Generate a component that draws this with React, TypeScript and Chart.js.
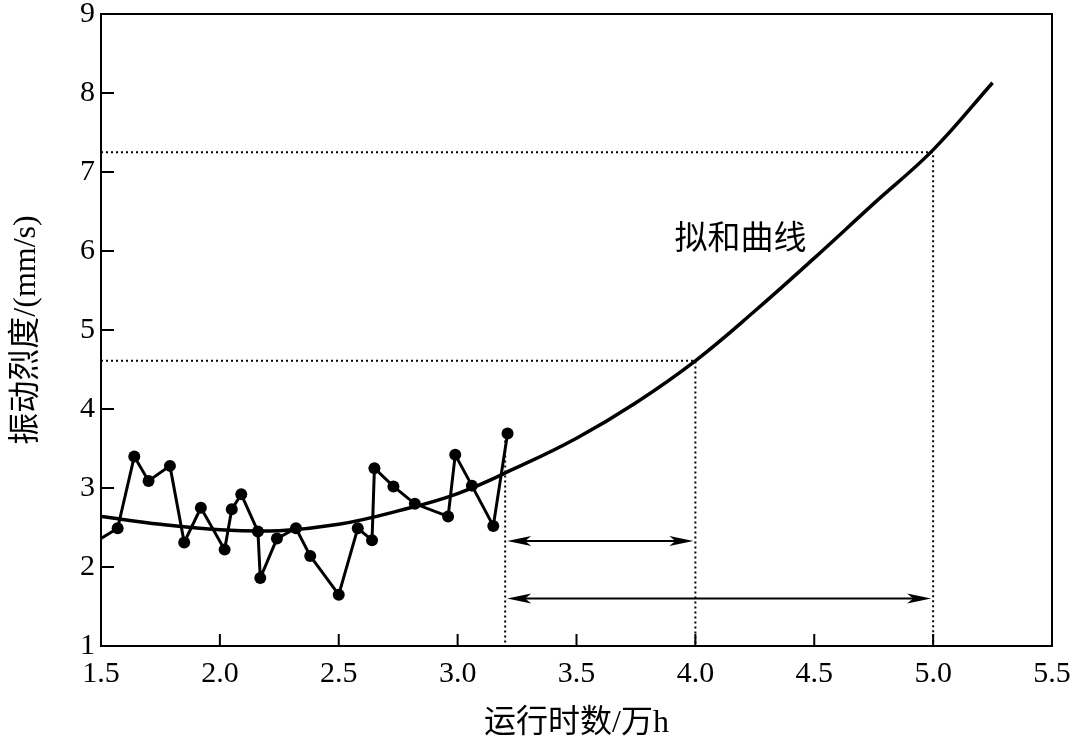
import React, { useEffect, useRef } from "react";
import { Chart, registerables } from "chart.js";

Chart.register(...registerables);

// Measured vibration intensity (first entry lies on the left edge, no marker)
const measuredX = [1.5, 1.57, 1.64, 1.7, 1.79, 1.85, 1.92, 2.02, 2.05, 2.09, 2.16, 2.17, 2.24, 2.32, 2.38, 2.5, 2.58, 2.64, 2.65, 2.73, 2.82, 2.96, 2.99, 3.06, 3.15, 3.21];
const measuredY = [2.36, 2.49, 3.4, 3.09, 3.28, 2.31, 2.75, 2.22, 2.73, 2.92, 2.45, 1.86, 2.36, 2.49, 2.14, 1.65, 2.49, 2.34, 3.25, 3.02, 2.8, 2.64, 3.42, 3.03, 2.52, 3.69];

// Fitted curve
const fitX = [1.5, 1.75, 2.0, 2.25, 2.5, 2.75, 3.0, 3.25, 3.5, 3.75, 4.0, 4.25, 4.5, 4.75, 5.0, 5.25];
const fitY = [2.64, 2.54, 2.47, 2.46, 2.54, 2.71, 2.93, 3.26, 3.63, 4.08, 4.61, 5.24, 5.91, 6.6, 7.28, 8.13];

// Dotted reference lines
const guideA_X = [1.5, 5.0, 5.0];
const guideA_Y = [7.25, 7.25, 1];
const guideB_X = [1.5, 4.0, 4.0];
const guideB_Y = [4.61, 4.61, 1];
const guideC_X = [3.2, 3.2];
const guideC_Y = [3.6, 1];

// Double arrows: start x, end x, y
const arrowFrom = [3.2, 3.2];
const arrowTo = [4.0, 5.0];
const arrowY = [2.33, 1.6];

// Annotation
const noteText = "拟和曲线";
const noteX = 4.19;
const noteY = 6.14;

const xTicks = [1.5, 2.0, 2.5, 3.0, 3.5, 4.0, 4.5, 5.0, 5.5];
const yTicks = [1, 2, 3, 4, 5, 6, 7, 8, 9];

const xTitle = "运行时数/万h";
const yTitle = "振动烈度/(mm/s)";

const FONT = "'Liberation Serif', 'Noto Sans CJK SC', serif";

const zip = (xs: number[], ys: number[]) => xs.map((x, i) => ({ x, y: ys[i] }));

function drawHead(ctx: CanvasRenderingContext2D, tipX: number, y: number, dir: number) {
  const len = 24;
  const hw = 5;
  ctx.beginPath();
  ctx.moveTo(tipX, y);
  ctx.lineTo(tipX - dir * len, y - hw);
  ctx.lineTo(tipX - dir * (len - 6), y);
  ctx.lineTo(tipX - dir * len, y + hw);
  ctx.closePath();
  ctx.fill();
}

const decorPlugin = {
  id: "decor",
  afterDatasetsDraw(chart: any) {
    const { ctx, chartArea: a, scales } = chart;
    const xs = scales.x;
    const ys = scales.y;
    ctx.save();
    ctx.strokeStyle = "#000";
    ctx.fillStyle = "#000";
    ctx.lineWidth = 2;
    ctx.setLineDash([]);
    ctx.strokeRect(a.left, a.top, a.right - a.left, a.bottom - a.top);
    ctx.beginPath();
    yTicks.forEach((v) => {
      const py = ys.getPixelForValue(v);
      ctx.moveTo(a.left, py);
      ctx.lineTo(a.left + 13, py);
    });
    xTicks.forEach((v) => {
      const px = xs.getPixelForValue(v);
      ctx.moveTo(px, a.bottom);
      ctx.lineTo(px, a.bottom - 12);
    });
    ctx.stroke();

    // arrows
    arrowY.forEach((yv, i) => {
      const py = ys.getPixelForValue(yv);
      const x1 = xs.getPixelForValue(arrowFrom[i]) + 2;
      const x2 = xs.getPixelForValue(arrowTo[i]) - 2;
      ctx.lineWidth = 2;
      ctx.beginPath();
      ctx.moveTo(x1 + 10, py);
      ctx.lineTo(x2 - 10, py);
      ctx.stroke();
      drawHead(ctx, x1, py, -1);
      drawHead(ctx, x2, py, 1);
    });

    // annotation
    ctx.font = `33px ${FONT}`;
    ctx.textAlign = "center";
    ctx.textBaseline = "middle";
    ctx.fillText(noteText, xs.getPixelForValue(noteX), ys.getPixelForValue(noteY));
    ctx.restore();
  },
};

export default function App() {
  const ref = useRef<HTMLCanvasElement | null>(null);

  useEffect(() => {
    document.body.style.margin = "0";
    const canvas = ref.current;
    if (!canvas) return;
    const dotted = {
      type: "line" as const,
      borderColor: "#000",
      borderWidth: 2,
      borderDash: [2, 3],
      pointRadius: 0,
      fill: false,
      tension: 0,
    };
    const chart = new Chart(canvas, {
      type: "line",
      data: {
        datasets: [
          { ...dotted, data: zip(guideA_X, guideA_Y) },
          { ...dotted, data: zip(guideB_X, guideB_Y) },
          { ...dotted, data: zip(guideC_X, guideC_Y) },
          {
            data: zip(fitX, fitY),
            borderColor: "#000",
            borderWidth: 3.5,
            pointRadius: 0,
            tension: 0.4,
            fill: false,
          },
          {
            data: zip(measuredX, measuredY),
            borderColor: "#000",
            borderWidth: 3,
            pointRadius: (c: any) => (c.dataIndex === 0 ? 0 : 6),
            pointBackgroundColor: "#000",
            pointBorderColor: "#000",
            pointBorderWidth: 0,
            tension: 0,
            fill: false,
          },
        ],
      },
      options: {
        responsive: false,
        animation: false,
        layout: { padding: { top: 14, right: 23, left: 0, bottom: 0 } },
        plugins: { legend: { display: false }, tooltip: { enabled: false } },
        scales: {
          x: {
            type: "linear",
            min: 1.5,
            max: 5.5,
            afterBuildTicks: (s: any) => {
              s.ticks = xTicks.map((v) => ({ value: v }));
            },
            afterFit: (s: any) => {
              s.height = 97;
              s.paddingLeft = 0;
              s.paddingRight = 0;
            },
            grid: { display: false, drawTicks: false },
            border: { display: false },
            ticks: {
              color: "#000",
              padding: 10,
              maxRotation: 0,
              font: { family: FONT, size: 30 },
              callback: (v: any) => Number(v).toFixed(1),
            },
            title: {
              display: true,
              text: xTitle,
              color: "#000",
              font: { family: FONT, size: 32 },
              padding: { top: 0, bottom: 0 },
            },
          },
          y: {
            type: "linear",
            min: 1,
            max: 9,
            afterBuildTicks: (s: any) => {
              s.ticks = yTicks.map((v) => ({ value: v }));
            },
            afterFit: (s: any) => {
              s.width = 101;
              s.paddingTop = 0;
              s.paddingBottom = 0;
            },
            grid: { display: false, drawTicks: false },
            border: { display: false },
            ticks: {
              color: "#000",
              padding: 6,
              font: { family: FONT, size: 30 },
              callback: (v: any) => String(v),
            },
            title: {
              display: true,
              text: yTitle,
              color: "#000",
              font: { family: FONT, size: 32 },
              padding: { top: 7, bottom: 0 },
            },
          },
        },
      },
      plugins: [decorPlugin],
    } as any);
    return () => chart.destroy();
  }, []);

  return (
    <div style={{ width: 1075, height: 743, background: "#fff" }}>
      <canvas ref={ref} width={1075} height={743} style={{ display: "block", width: 1075, height: 743 }} />
    </div>
  );
}
